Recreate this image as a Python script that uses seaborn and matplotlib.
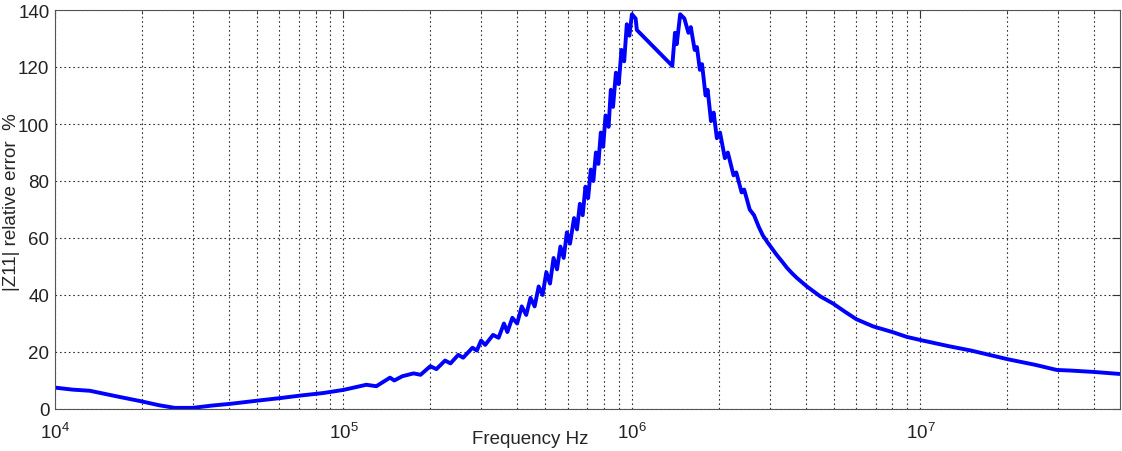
import numpy as np
import pandas as pd
import matplotlib
matplotlib.use("Agg")
import matplotlib.pyplot as plt
import seaborn as sns
from matplotlib.ticker import LogLocator, FixedLocator

# Data (frequency in Hz, |Z11| relative error in %)
freq_hz = [
    1.0e4, 1.15e4, 1.32e4, 1.68e4, 1.97e4, 2.3e4, 2.6e4, 3.0e4, 3.5e4, 4.04e4,
    5.0e4, 6.0e4, 7.07e4, 8.5e4, 1.0e5, 1.2e5, 1.3e5, 1.45e5, 1.5e5, 1.6e5,
    1.75e5, 1.85e5, 2.0e5, 2.1e5, 2.25e5, 2.35e5, 2.5e5, 2.6e5, 2.8e5, 2.9e5,
    3.0e5, 3.1e5, 3.3e5, 3.45e5, 3.6e5, 3.7e5, 3.85e5, 4.0e5, 4.15e5, 4.3e5,
    4.45e5, 4.6e5, 4.75e5, 4.9e5, 5.05e5, 5.2e5, 5.35e5, 5.5e5, 5.65e5, 5.8e5,
    5.95e5, 6.1e5, 6.3e5, 6.45e5, 6.6e5, 6.75e5, 6.9e5, 7.05e5, 7.2e5, 7.35e5,
    7.5e5, 7.65e5, 7.8e5, 7.95e5, 8.1e5, 8.3e5, 8.45e5, 8.6e5, 8.8e5, 9.0e5,
    9.2e5, 9.4e5, 9.6e5, 9.8e5, 1.0e6, 1.03e6, 1.04e6, 1.38e6, 1.41e6, 1.43e6,
    1.47e6, 1.52e6, 1.57e6, 1.6e6, 1.65e6, 1.68e6, 1.72e6, 1.75e6, 1.8e6, 1.83e6,
    1.88e6, 1.92e6, 1.97e6, 2.02e6, 2.1e6, 2.15e6, 2.25e6, 2.3e6, 2.4e6, 2.45e6,
    2.56e6, 2.65e6, 2.75e6, 2.84e6, 2.95e6, 3.05e6, 3.18e6, 3.3e6, 3.45e6, 3.6e6,
    3.73e6, 4.04e6, 4.5e6, 4.98e6, 5.5e6, 6.0e6, 6.85e6, 8.0e6, 8.97e6, 1.0e7,
    1.26e7, 1.5e7, 2.0e7, 2.5e7, 2.97e7, 3.3e7, 4.0e7, 4.9e7,
]
error_pct = [
    7.5, 6.8, 6.4, 4.2, 2.8, 1.3, 0.4, 0.4, 1.2, 1.8,
    2.9, 3.8, 4.7, 5.6, 6.7, 8.5, 8.0, 11.0, 10.0, 11.5,
    12.5, 12.0, 15.0, 14.0, 17.0, 16.0, 19.0, 18.0, 21.5, 20.5,
    24.0, 22.5, 26.0, 25.0, 30.0, 27.0, 32.0, 30.0, 36.0, 33.0,
    39.0, 36.0, 43.0, 40.0, 48.0, 44.0, 53.0, 49.0, 57.0, 53.0,
    62.0, 58.0, 67.0, 63.0, 72.0, 68.0, 78.0, 74.0, 84.0, 80.0,
    90.0, 86.0, 97.0, 92.0, 103.0, 99.0, 112.0, 106.0, 118.0, 114.0,
    126.0, 122.0, 135.0, 131.0, 138.5, 137.0, 133.0, 120.4, 132.0, 128.0,
    138.5, 137.0, 132.0, 134.0, 126.0, 127.0, 119.0, 121.0, 110.0, 112.0,
    101.0, 104.0, 95.0, 97.0, 88.0, 90.0, 82.0, 83.0, 76.0, 77.0,
    70.0, 68.0, 64.0, 61.0, 58.5, 56.5, 54.0, 52.0, 49.5, 47.5,
    46.0, 43.0, 39.5, 37.0, 34.0, 31.5, 29.0, 27.0, 25.3, 24.2,
    22.0, 20.5, 17.5, 15.5, 13.7, 13.5, 13.0, 12.3,
]
y_ticks = [0, 20, 40, 60, 80, 100, 120, 140]
x_label = "Frequency Hz"
y_label = "|Z11| relative error  %"

df = pd.DataFrame({"freq": freq_hz, "err": error_pct})

sns.set_style("white")
plt.rcParams["font.family"] = ["Liberation Sans", "DejaVu Sans"]
plt.rcParams["mathtext.fontset"] = "custom"
plt.rcParams["mathtext.rm"] = "Liberation Sans"
plt.rcParams["mathtext.it"] = "Liberation Sans"
plt.rcParams["mathtext.default"] = "regular"

fig = plt.figure(figsize=(11.22, 4.52), dpi=100)
ax = fig.add_axes([55 / 1122, 42 / 452, 1065 / 1122, 399 / 452])

sns.lineplot(data=df, x="freq", y="err", ax=ax, color="#0000ff",
             linewidth=2.8, estimator=None, sort=False)

ax.set_xscale("log")
ax.set_xlim(1e4, 4.92e7)
ax.set_ylim(0, 140)
ax.yaxis.set_major_locator(FixedLocator(y_ticks))
ax.xaxis.set_major_locator(LogLocator(base=10, numticks=10))
ax.xaxis.set_minor_locator(LogLocator(base=10, subs=np.arange(2, 10), numticks=100))

ax.grid(True, which="major", axis="both", linestyle=(0, (1.5, 2.5)), color="#333333", linewidth=0.8)
ax.grid(True, which="minor", axis="x", linestyle=(0, (1.5, 2.5)), color="#333333", linewidth=0.8)

ax.tick_params(which="both", direction="in", top=True, right=True, colors="#333333",
               labelcolor="#222222", labelsize=13.5)
ax.tick_params(which="major", length=6, width=0.8)
ax.tick_params(which="minor", length=3, width=0.6)
ax.tick_params(axis="x", which="major", pad=9)
ax.tick_params(axis="y", which="major", pad=4)
for s in ax.spines.values():
    s.set_color("#555555")
    s.set_linewidth(0.8)

ax.set_xlabel(x_label, fontsize=13.5)
ax.set_ylabel(y_label, fontsize=13.5)
ax.xaxis.set_label_coords(0.446, -0.052)
ax.yaxis.set_label_coords(-0.033, 0.52)

fig.savefig("out.png", dpi=100)
